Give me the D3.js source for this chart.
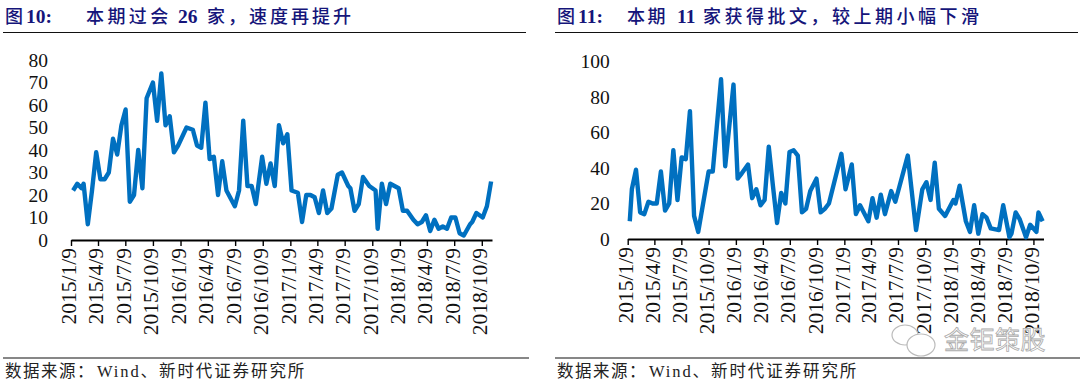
<!DOCTYPE html>
<html>
<head>
<meta charset="utf-8">
<script src="https://cdn.jsdelivr.net/npm/d3@7/dist/d3.min.js"></script>
<style>
  html, body { margin: 0; background: #fff; }
  svg { display: block; }
  text { font-family: "Liberation Serif", "Noto Sans CJK SC", serif; }
</style>
</head>
<body>
<svg id="chart" width="1080" height="383"></svg>
<script>
// tick labels, same for both panels
const TICK_LABELS = ['2015/1/9','2015/4/9','2015/7/9','2015/10/9','2016/1/9','2016/4/9','2016/7/9','2016/10/9',
  '2017/1/9','2017/4/9','2017/7/9','2017/10/9','2018/1/9','2018/4/9','2018/7/9','2018/10/9'];

// fig 10: weeks after 2015/1/9, and companies reviewed
const weeks10 = [1,3,5,6,8,10,12,14,16,18,20,22,24,26,28,30,32,34,36,39,41,43,45,47,49,51,53,55,58,60,62,64,66,68,70,72,74,78,80,82,84,86,88,91,93,95,97,99,101,103,105,108,110,112,114,116,118,120,122,124,127,129,132,133,135,137,139,142,145,146,148,150,152,154,156,158,160,163,165,167,169,171,173,175,177,179,181,183,185,187,190,191,193,196,198,200];
const values10 = [22,25,23,25,7,22,39,27,27,30,45,38,51,58,17,20,40,23,63,70,53,74,51,55,39,42,46,50,49,42,41,61,36,37,20,35,22,15,22,53,24,24,16,37,25,34,24,51,43,47,22,21,8,20,20,19,12,22,12,14,29,30,24,23,13,16,28,24,22,5,25,16,25,24,23,13,13,9,7,8,11,4,9,5,6,5,10,10,3,2,7,8,12,10,15,26];

// fig 11: weeks after 2015/1/9, and companies approved
const weeks11 = [1,2,4,6,8,10,12,14,16,18,20,22,24,26,28,30,32,34,39,41,45,47,51,53,55,58,60,62,64,66,68,70,72,74,76,78,80,82,84,86,88,91,93,95,97,103,105,108,110,112,116,118,120,122,124,127,129,135,139,142,144,146,148,150,153,157,158,160,163,165,167,169,171,173,175,179,181,184,185,187,189,192,194,197,198,200];
const values11 = [10,28,39,15,14,21,20,20,38,16,20,50,22,46,45,72,13,4,38,38,90,41,87,34,37,42,23,28,19,22,52,30,9,26,20,49,50,47,15,17,27,34,15,17,20,48,28,42,14,19,10,23,12,25,14,27,21,47,5,28,32,22,43,17,13,22,20,30,10,4,19,3,14,12,6,5,19,1,3,15,11,1,8,4,15,10];

const TICKS_10 = [0,10,20,30,40,50,60,70,80];
const TICKS_11 = [0,20,40,60,80,100];

const NAVY = '#15157a';
const BLUE = '#0070c0';
const START = new Date(2015, 0, 9);
const END = d3.timeDay.offset(START, 1403);
const tickDates = TICK_LABELS.map(d => { const [y, m, a] = d.split('/'); return new Date(+y, m - 1, +a); });
const weekDate = w => d3.timeDay.offset(START, w * 7);

const svg = d3.select('#chart');

function panel(o) {
  const x = d3.scaleTime().domain([START, END]).range([o.x0, o.x1]);
  const y = d3.scaleLinear().domain([0, o.yMax]).range([o.y0, o.y1]);

  // header and footer rules
  [[32.5, o.ruleY1], [358, o.ruleY2]].forEach(([ry, end]) => {
    svg.append('line').attr('x1', o.left).attr('x2', end).attr('y1', ry).attr('y2', ry)
      .attr('stroke', '#111').attr('stroke-width', 1.2);
  });

  // title
  const t = svg.append('text').attr('y', 23).attr('fill', NAVY).attr('font-size', 18);
  o.title.forEach(p => {
    t.append('tspan').attr('x', p.x).attr('font-weight', p.bold ? 700 : 500)
      .attr('font-size', p.bold ? 19.5 : 18)
      .attr('letter-spacing', p.ls || 0).text(p.text);
  });

  // axes
  const xAxis = svg.append('g').attr('transform', `translate(0,${o.y0})`)
    .call(d3.axisBottom(x).tickValues(tickDates).tickFormat((d, i) => TICK_LABELS[i]).tickSize(6).tickSizeOuter(0));
  xAxis.select('.domain').attr('stroke', '#000').attr('stroke-width', 2);
  xAxis.selectAll('.tick line').attr('stroke', '#000').attr('stroke-width', 1.4);
  xAxis.selectAll('.tick text')
    .attr('font-family', null).attr('font-size', 21.5).attr('fill', '#111')
    .attr('text-anchor', 'end').attr('dominant-baseline', 'middle')
    .attr('transform', 'translate(0,2) rotate(-90)')
    .attr('x', -6).attr('y', 0).attr('dy', 0);

  const yAxis = svg.append('g').attr('transform', `translate(${o.x0 - o.labelGap},0)`)
    .call(d3.axisLeft(y).tickValues(o.ticks).tickSize(0).tickPadding(0));
  yAxis.select('.domain').remove();
  yAxis.selectAll('text').attr('font-family', null).attr('font-size', 19.5).attr('fill', '#111').attr('dy', '0.33em');

  // series
  const line = d3.line().x((d, i) => x(weekDate(o.weeks[i]))).y(d => y(d));
  svg.append('path').datum(o.values)
    .attr('fill', 'none').attr('stroke', BLUE).attr('stroke-width', 4.4)
    .attr('stroke-linejoin', 'round').attr('d', line);

  // source
  const s = svg.append('text').attr('y', 377).attr('font-size', 16.5).attr('fill', '#222');
  s.append('tspan').attr('x', o.left + 2).attr('letter-spacing', 1.5).text('数据来源\uFF1A');
  s.append('tspan').attr('x', o.left + 94).attr('letter-spacing', 1.9).text('Wind\u3001新时代证券研究所');
}

panel({
  left: 3, ruleY1: 526, ruleY2: 529, x0: 71, x1: 492, y0: 240, y1: 60, yMax: 80, labelGap: 23,
  ticks: TICKS_10, weeks: weeks10, values: values10,
  title: [
    { x: 5, text: '图' },
    { x: 26, text: '10:', bold: true },
    { x: 86, text: '本期过会', ls: 3.4 },
    { x: 178, text: '26', bold: true },
    { x: 207, text: '家\uFF0C速度再提升', ls: 3 },
  ],
});

panel({
  left: 555, ruleY1: 1078, ruleY2: 1080, x0: 627.7, x1: 1043.5, y0: 239, y1: 61.5, yMax: 100, labelGap: 18,
  ticks: TICKS_11, weeks: weeks11, values: values11,
  title: [
    { x: 557, text: '图' },
    { x: 578, text: '11:', bold: true },
    { x: 627, text: '本期', ls: 2.5 },
    { x: 677, text: '11', bold: true },
    { x: 703, text: '家获得批文\uFF0C较上期小幅下滑', ls: 3.5 },
  ],
});

// watermark
const wm = svg.append('g').attr('fill', 'none').attr('stroke', '#bbb').attr('stroke-width', 1.2);
wm.append('ellipse').attr('cx', 905).attr('cy', 335).attr('rx', 13).attr('ry', 10);
wm.append('ellipse').attr('cx', 921).attr('cy', 345).attr('rx', 14).attr('ry', 11).attr('fill', '#fff');
svg.append('text').attr('x', 944).attr('y', 349).attr('font-size', 25).attr('letter-spacing', 0.5)
  .attr('fill', '#fff').attr('stroke', '#aaa').attr('stroke-width', 0.8)
  .text('金钜策股');
</script>
</body>
</html>
